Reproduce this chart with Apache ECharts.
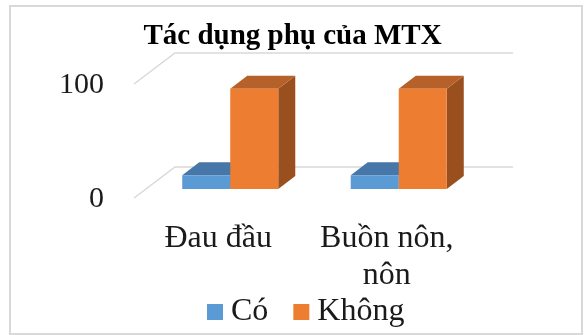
<!DOCTYPE html>
<html>
<head>
<meta charset="utf-8">
<script src="https://cdn.jsdelivr.net/npm/echarts@6/dist/echarts.min.js"></script>
<style>
  html, body { margin: 0; padding: 0; background: #fff; }
  #wrap { position: relative; width: 585px; height: 335px; }
  #chart { width: 585px; height: 335px; }
  .frame {
    position: absolute; left: 9px; top: 5px; width: 574px; height: 330px;
    border: 2px solid #d9d9d9; box-sizing: border-box; pointer-events: none;
  }
</style>
</head>
<body>
<div id="wrap">
  <div id="chart"></div>
  <div class="frame"></div>
</div>
<script>
const categories = ['Đau đầu', 'Buồn nôn, nôn']
const coValues = [12, 12]
const khongValues = [88, 88]
const yTicks = [0, 100]

const FONT = 'Liberation Serif, Times New Roman, serif'
// oblique depth used for the fake 3d look
const DEPTH = [17, -13]

function barRenderer(side, colors) {
  return function (params, api) {
    const band = api.size([1, 0])[0]
    const w = band * 0.285
    const top = api.coord([api.value(0), api.value(1)])
    const base = api.coord([api.value(0), 0])
    const x0 = side < 0 ? top[0] - w : top[0]
    const x1 = x0 + w
    const y0 = top[1]
    const y1 = base[1]
    const dx = DEPTH[0], dy = DEPTH[1]
    return {
      type: 'group',
      children: [
        {
          type: 'polygon',
          shape: { points: [[x1, y1], [x1 + dx, y1 + dy], [x1 + dx, y0 + dy], [x1, y0]] },
          style: { fill: colors.side }
        },
        {
          type: 'polygon',
          shape: { points: [[x0, y0], [x0 + dx, y0 + dy], [x1 + dx, y0 + dy], [x1, y0]] },
          style: { fill: colors.top }
        },
        {
          type: 'rect',
          shape: { x: x0, y: y0, width: w, height: y1 - y0 },
          style: { fill: colors.front }
        }
      ]
    }
  }
}

function gridRenderer(params, api) {
  const cs = params.coordSys
  const y = api.coord([0, api.value(1)])[1]
  const x = cs.x
  const right = cs.x + cs.width
  return {
    type: 'polyline',
    silent: true,
    shape: { points: [[x - 12, y + 9], [x + 29, y - 22], [right + 30, y - 22]] },
    style: { stroke: '#d9d9d9', lineWidth: 1.5, fill: null }
  }
}

const chart = echarts.init(document.getElementById('chart'))
chart.setOption({
  animation: false,
  title: {
    text: 'Tác dụng phụ của MTX',
    left: 'center',
    top: 17,
    textStyle: { fontFamily: FONT, fontWeight: 'bold', fontSize: 29, color: '#000' }
  },
  legend: {
    data: ['Có', 'Không'],
    left: 207,
    top: 296,
    padding: 0,
    icon: 'rect',
    itemWidth: 16,
    itemHeight: 16,
    itemGap: 25,
    textStyle: { fontFamily: FONT, fontSize: 32, color: '#1a1a1a', padding: [0, 0, 0, 3] }
  },
  grid: { left: 146, right: 102, top: 75, bottom: 146, outerBoundsMode: 'none' },
  xAxis: {
    type: 'category',
    data: categories,
    axisLine: { show: false },
    axisTick: { show: false },
    axisLabel: {
      interval: 0,
      fontFamily: FONT,
      fontSize: 32,
      color: '#1a1a1a',
      margin: 31,
      lineHeight: 37,
      padding: [0, 24, 0, 0],
      // Excel wraps the long label after the comma
      formatter: v => v.replace(', ', ',\n')
    }
  },
  yAxis: {
    type: 'value',
    min: yTicks[0],
    max: yTicks[yTicks.length - 1],
    interval: 100,
    axisLine: { show: false },
    axisTick: { show: false },
    splitLine: { show: false },
    axisLabel: {
      fontFamily: FONT,
      fontSize: 30,
      color: '#1a1a1a',
      margin: 42,
      verticalAlign: 'top',
      lineHeight: 20
    }
  },
  series: [
    {
      type: 'custom',
      name: 'grid',
      silent: true,
      z: 1,
      renderItem: gridRenderer,
      data: yTicks.map(v => [0, v]),
      encode: { x: 0, y: 1 }
    },
    {
      type: 'custom',
      name: 'Có',
      z: 2,
      itemStyle: { color: '#5B9BD5' },
      renderItem: barRenderer(-1, { front: '#5B9BD5', top: '#4677A8', side: '#3F6C97' }),
      data: coValues.map((v, i) => [i, v]),
      encode: { x: 0, y: 1 }
    },
    {
      type: 'custom',
      name: 'Không',
      z: 2,
      itemStyle: { color: '#ED7D31' },
      renderItem: barRenderer(1, { front: '#ED7D31', top: '#B6612A', side: '#9A4F1F' }),
      data: khongValues.map((v, i) => [i, v]),
      encode: { x: 0, y: 1 }
    }
  ]
})
</script>
</body>
</html>
